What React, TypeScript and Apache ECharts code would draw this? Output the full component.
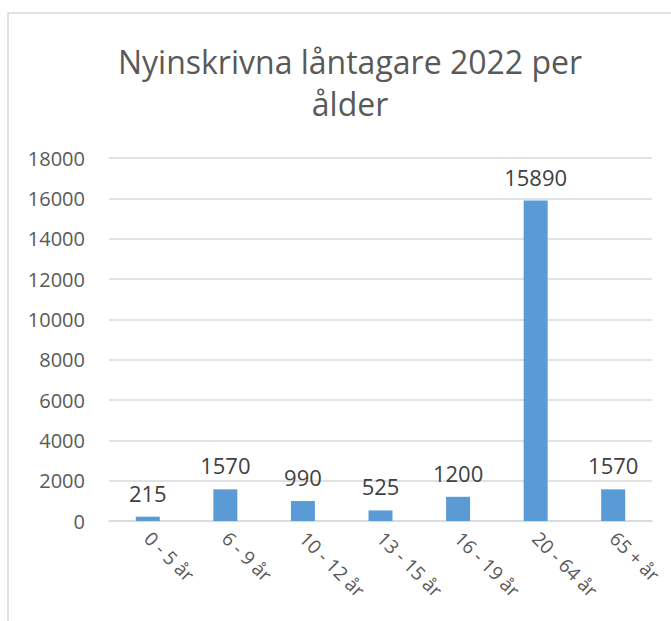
import React, { useEffect, useRef } from "react";
import * as echarts from "echarts";

const titleLines = ["Nyinskrivna låntagare 2022 per", "ålder"];
const categories = ["0 - 5 år", "6 - 9 år", "10 - 12 år", "13 - 15 år", "16 - 19 år", "20 - 64 år", "65 + år"];
const values = [215, 1570, 990, 525, 1200, 15890, 1570];
const yMin = 0;
const yMax = 18000;
const yInterval = 2000;

const FONT = "'Open Sans', sans-serif";

export default function App() {
  const ref = useRef<HTMLDivElement>(null);
  useEffect(() => {
    if (!ref.current) return;
    const chart = echarts.init(ref.current, undefined, { renderer: "svg" });
    chart.setOption({
      animation: false,
      backgroundColor: "#ffffff",
      title: {
        text: titleLines.join("\n"),
        left: 345,
        textAlign: "center",
        top: 35,
        textStyle: {
          fontFamily: FONT,
          fontSize: 32,
          fontWeight: "normal",
          color: "#595959",
          lineHeight: 42,
        },
      },
      graphic: [
        {
          type: "rect",
          shape: { x: 8, y: 13, width: 700, height: 700 },
          style: { fill: "none", stroke: "#d9d9d9", lineWidth: 1.5 },
          silent: true,
        },
      ],
      grid: { left: 109, right: 19, top: 158, bottom: 100, containLabel: false },
      xAxis: {
        type: "category",
        data: categories,
        axisTick: { show: false },
        axisLine: { show: true, lineStyle: { color: "#d9d9d9", width: 1.5 } },
        axisLabel: {
          rotate: -45,
          fontFamily: FONT,
          fontSize: 19,
          color: "#595959",
          margin: 14,
          interval: 0,
        },
      },
      yAxis: {
        type: "value",
        min: yMin,
        max: yMax,
        interval: yInterval,
        axisLine: { show: false },
        axisTick: { show: false },
        splitLine: { lineStyle: { color: "#d9d9d9", width: 1.5 } },
        axisLabel: {
          fontFamily: FONT,
          fontSize: 20,
          color: "#595959",
          margin: 24,
          formatter: (v: number) => String(v),
        },
      },
      series: [
        {
          type: "bar",
          data: values,
          barWidth: 24,
          itemStyle: { color: "#5b9bd5" },
          label: {
            show: true,
            position: "top",
            distance: 13,
            fontFamily: FONT,
            fontSize: 22,
            color: "#404040",
          },
        },
      ],
    });
    return () => chart.dispose();
  }, []);
  return (
    <div
      ref={ref}
      style={{ position: "absolute", left: 0, top: 0, width: 671, height: 621 }}
    />
  );
}
